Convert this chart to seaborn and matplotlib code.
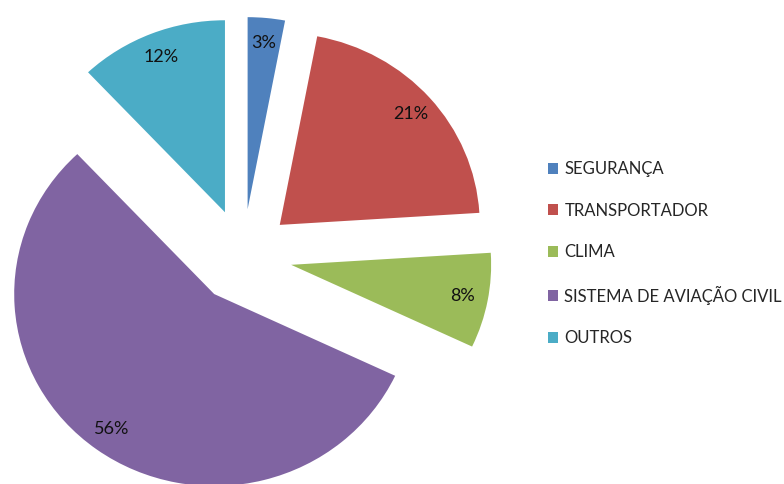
import matplotlib
matplotlib.use("Agg")
import matplotlib.pyplot as plt
from matplotlib.patches import Patch
import seaborn as sns

categories = ["SEGURANÇA", "TRANSPORTADOR", "CLIMA", "SISTEMA DE AVIAÇÃO CIVIL", "OUTROS"]
shares = [3, 21, 8, 56, 12]
colors = ["#4F81BD", "#C0504D", "#9BBB59", "#8064A2", "#4BACC6"]

sns.set_theme(style="white")
plt.rcParams["font.family"] = ["Lato", "DejaVu Sans"]

W, H = 784, 484
fig = plt.figure(figsize=(W / 100, H / 100), dpi=100)
ax = fig.add_axes([0, 0, 1, 1])

# pie centre (pixels from bottom-left) and pixels per unit radius on each axis
cx, cy = 243, H - 256
sx, sy = 200, 192

wedges, texts, autotexts = ax.pie(
    shares,
    colors=colors,
    startangle=90,
    counterclock=False,
    explode=[0.245] * len(shares),
    autopct="%1.0f%%",
    pctdistance=0.87,
    radius=1.0,
    wedgeprops=dict(linewidth=0),
    textprops=dict(fontsize=13, color="#111111"),
)

ax.set_aspect("auto")
ax.set_xlim(-cx / sx, (W - cx) / sx)
ax.set_ylim(-cy / sy, (H - cy) / sy)
ax.axis("off")

handles = [Patch(facecolor=c, edgecolor="none") for c in colors]
fig.legend(
    handles,
    categories,
    loc="upper left",
    bbox_to_anchor=(548 / W, 1 - 161 / H),
    frameon=False,
    fontsize=12,
    handlelength=0.62,
    handleheight=0.62,
    handletextpad=0.36,
    labelspacing=1.53,
    borderpad=0,
    borderaxespad=0,
)

fig.savefig("out.png", dpi=100, facecolor="white")
